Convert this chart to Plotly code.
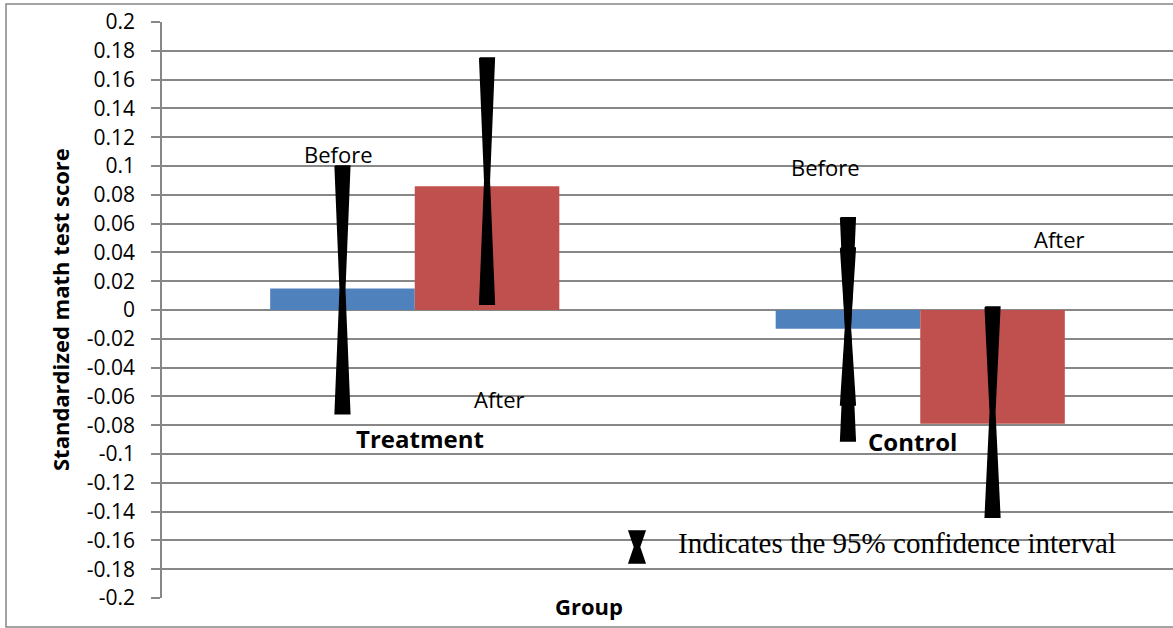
import plotly.graph_objects as go

# ---------------- data ----------------
groups = ["Treatment", "Control"]
before_means = [0.015, -0.013]
after_means = [0.086, -0.079]
before_ci_low = [-0.072, -0.091]
before_ci_high = [0.100, 0.064]
after_ci_low = [0.004, -0.144]
after_ci_high = [0.175, 0.002]
# a second, narrower interval is drawn over the Control "Before" bar
inner_ci_group = "Control"
inner_ci_low = -0.066
inner_ci_high = 0.043

tick_values = [0.2, 0.18, 0.16, 0.14, 0.12, 0.1, 0.08, 0.06, 0.04, 0.02, 0,
               -0.02, -0.04, -0.06, -0.08, -0.1, -0.12, -0.14, -0.16, -0.18, -0.2]
tick_labels = ["0.2", "0.18", "0.16", "0.14", "0.12", "0.1", "0.08", "0.06", "0.04", "0.02", "0",
               "-0.02", "-0.04", "-0.06", "-0.08", "-0.1", "-0.12", "-0.14", "-0.16", "-0.18", "-0.2"]

# ---------------- styling ----------------
BLUE = "#4F81BD"
RED = "#C0504D"
GRID = "#878787"
FONT = "Open Sans"
BAR_W = 0.286

W, H = 1173, 628
ML, MR, MT, MB = 162, 0, 22, 30
PW, PH = W - ML - MR, H - MT - MB


def px_to_paper(px, py):
    return (px - ML) / PW, (H - MB - py) / PH


def hourglass(xc, lo, hi, half_end=0.0145, half_waist=0.0045):
    mid = (lo + hi) / 2
    xs = [xc - half_end, xc + half_end, xc + half_waist, xc + half_end,
          xc - half_end, xc - half_waist, xc - half_end]
    ys = [hi, hi, mid, lo, lo, mid, hi]
    return xs, ys


gx = list(range(len(groups)))
fig = go.Figure()

fig.add_trace(go.Bar(x=gx, y=before_means, width=BAR_W, offset=-BAR_W,
                     marker=dict(color=BLUE, line=dict(width=0)), name="Before",
                     showlegend=False))
fig.add_trace(go.Bar(x=gx, y=after_means, width=BAR_W, offset=0,
                     marker=dict(color=RED, line=dict(width=0)), name="After",
                     showlegend=False))

intervals = []
for i in gx:
    intervals.append((i - BAR_W / 2, before_ci_low[i], before_ci_high[i]))
    intervals.append((i + BAR_W / 2, after_ci_low[i], after_ci_high[i]))
ci = groups.index(inner_ci_group)
intervals.append((ci - BAR_W / 2, inner_ci_low, inner_ci_high))

for xc, lo, hi in intervals:
    xs, ys = hourglass(xc, lo, hi)
    fig.add_trace(go.Scatter(x=xs, y=ys, mode="lines", fill="toself",
                             fillcolor="black", line=dict(color="black", width=1.5),
                             hoverinfo="skip", showlegend=False))

annotations = [
    dict(x=-0.150, y=0.108, text="Before", font=dict(size=22)),
    dict(x=0.168, y=-0.062, text="After", font=dict(size=22)),
    dict(x=0.812, y=0.099, text="Before", font=dict(size=22)),
    dict(x=1.275, y=0.049, text="After", font=dict(size=22)),
    dict(x=0.010, y=-0.089, text="<b>Treatment</b>", font=dict(size=24)),
    dict(x=0.984, y=-0.091, text="<b>Control</b>", font=dict(size=24)),
]
for a in annotations:
    a.update(xref="x", yref="y", showarrow=False, xanchor="center", yanchor="middle")
    a["font"].update(family=FONT, color="black")

gx_title, gy_title = px_to_paper(589, 606)
annotations.append(dict(x=gx_title, y=gy_title, xref="paper", yref="paper",
                        text="<b>Group</b>", showarrow=False, xanchor="center",
                        yanchor="middle", font=dict(family=FONT, size=22, color="black")))
yx, yy = px_to_paper(60, 310)
annotations.append(dict(x=yx, y=yy, xref="paper", yref="paper",
                        text="<b>Standardized math test score</b>", textangle=-90,
                        showarrow=False, xanchor="center", yanchor="middle",
                        font=dict(family=FONT, size=22, color="black")))
lx, ly = px_to_paper(897, 543)
annotations.append(dict(x=lx, y=ly, xref="paper", yref="paper",
                        text="Indicates the 95% confidence interval", showarrow=False,
                        xanchor="center", yanchor="middle",
                        font=dict(family="Liberation Serif", size=29, color="black")))

shapes = []
# white box behind the key text
bx0, by0 = px_to_paper(652, 560)
bx1, by1 = px_to_paper(1168, 526)
shapes.append(dict(type="rect", xref="paper", yref="paper", x0=bx0, x1=bx1, y0=by0, y1=by1,
                   fillcolor="white", line=dict(width=0), layer="between"))
# key symbol (hourglass)
cx, top, bot, he, hw = 637, 531, 563, 8, 2.5
pts = [(cx - he, top), (cx + he, top), (cx + hw, (top + bot) / 2), (cx + he, bot),
       (cx - he, bot), (cx - hw, (top + bot) / 2)]
pp = [px_to_paper(a, b) for a, b in pts]
path = "M " + " L ".join(f"{a:.5f},{b:.5f}" for a, b in pp) + " Z"
shapes.append(dict(type="path", xref="paper", yref="paper", path=path,
                   fillcolor="black", line=dict(color="black", width=1.5), layer="above"))
# outer chart border
ox0, oy0 = px_to_paper(6, 627)
ox1, oy1 = px_to_paper(1180, 4)
shapes.append(dict(type="rect", xref="paper", yref="paper", x0=ox0, x1=ox1, y0=oy0, y1=oy1,
                   fillcolor="rgba(0,0,0,0)", line=dict(color=GRID, width=1.5), layer="above"))

fig.update_layout(
    width=W, height=H,
    margin=dict(l=ML, r=MR, t=MT, b=MB),
    paper_bgcolor="white", plot_bgcolor="white",
    barmode="overlay",
    showlegend=False,
    font=dict(family=FONT, color="black"),
    annotations=annotations,
    shapes=shapes,
    xaxis=dict(range=[-0.5, 1.5], showticklabels=False, showgrid=False,
               zeroline=False, showline=False, fixedrange=True),
    yaxis=dict(range=[-0.2, 0.2], tickvals=tick_values, ticktext=tick_labels,
               showgrid=True, gridcolor=GRID, gridwidth=1.5, zeroline=False,
               showline=True, linecolor=GRID, linewidth=1.5,
               ticks="outside", ticklen=9, tickcolor=GRID, tickwidth=1.5,
               ticklabelstandoff=12,
               tickfont=dict(family=FONT, size=21, color="black")),
)

fig.write_html("out.html",
               config={"displayModeBar": False},
               post_script="document.body.style.margin='0';document.body.style.overflow='hidden';")
